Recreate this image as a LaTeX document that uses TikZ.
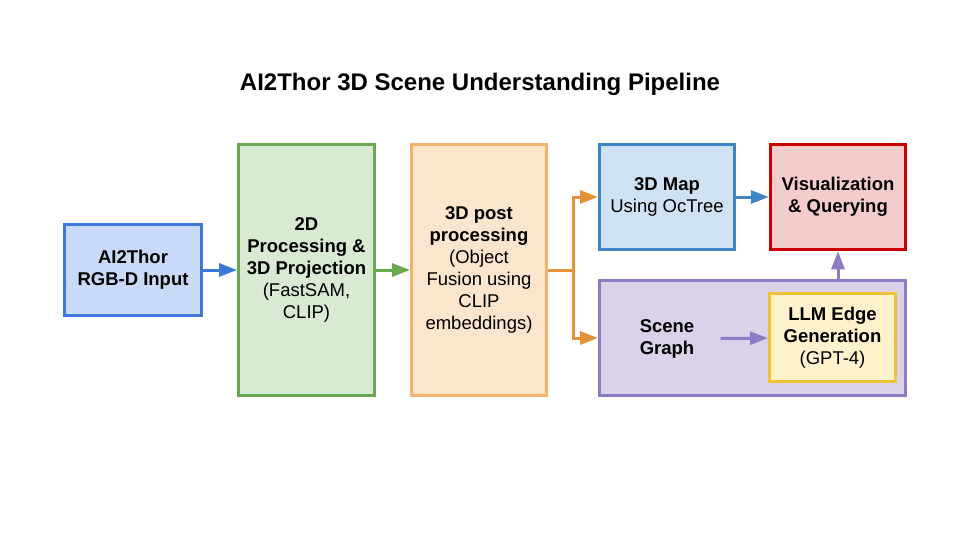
\documentclass[tikz,border=0pt]{standalone}
\usepackage{fontspec}
\setmainfont{Liberation Sans}
\usetikzlibrary{arrows.meta}

\definecolor{inputline}{HTML}{3C78D8}
\definecolor{inputfill}{HTML}{C9DAF8}
\definecolor{greenline}{HTML}{6AA84F}
\definecolor{greenfill}{HTML}{D9EAD3}
\definecolor{orangeline}{HTML}{F6B26B}
\definecolor{orangefill}{HTML}{FCE5CD}
\definecolor{orangearrow}{HTML}{E69138}
\definecolor{mapline}{HTML}{3D85C6}
\definecolor{mapfill}{HTML}{CFE2F3}
\definecolor{visline}{HTML}{CC0000}
\definecolor{visfill}{HTML}{F4CCCC}
\definecolor{sgline}{HTML}{8E7CC3}
\definecolor{sgfill}{HTML}{D9D2E9}
\definecolor{llmline}{HTML}{F1C232}
\definecolor{llmfill}{HTML}{FFF2CC}

\begin{document}
\begin{tikzpicture}[x=1pt,y=-1pt]

      \useasboundingbox (0,0) rectangle (960,540);

      \node[font=\fontsize{24}{28}\selectfont\bfseries] (title) at (480,84)
        {AI2Thor 3D Scene Understanding Pipeline};

      \begin{scope}[every node/.style={rectangle,draw,line width=3pt,align=center,
          inner sep=0pt,font=\fontsize{18.5}{22}\selectfont}]
        \node[fill=sgfill,draw=sgline,minimum width=306pt,minimum height=115pt] (sg) at (752.5,338) {};
        \node[fill=inputfill,draw=inputline,minimum width=137pt,minimum height=91pt] (input) at (133,270)
          {\textbf{AI2Thor}\\\textbf{RGB-D Input}};
        \node[fill=greenfill,draw=greenline,minimum width=136pt,minimum height=251pt] (proj) at (306.5,270)
          {\textbf{2D}\\\textbf{Processing \&}\\\textbf{3D Projection}\\(FastSAM,\\CLIP)};
        \node[fill=orangefill,draw=orangeline,minimum width=135pt,minimum height=251pt] (post) at (479,270)
          {\textbf{3D post}\\\textbf{processing}\\(Object\\Fusion using\\CLIP\\embeddings)};
        \node[fill=mapfill,draw=mapline,minimum width=135pt,minimum height=105pt] (map) at (667,197)
          {\textbf{3D Map}\\Using OcTree};
        \node[fill=visfill,draw=visline,line width=3.5pt,minimum width=135pt,minimum height=105pt] (vis) at (838,197)
          {\textbf{Visualization}\\\textbf{\& Querying}};
        \node[fill=llmfill,draw=llmline,minimum width=126pt,minimum height=88pt] (llm) at (832.5,337.5)
          {\textbf{LLM Edge}\\\textbf{Generation}\\(GPT-4)};
        \node[draw=none,minimum width=104pt] (sgtext) at (667,339)
          {\textbf{Scene}\\\textbf{Graph}};
      \end{scope}

      \coordinate (split) at (573,270);

      \begin{scope}[every edge/.style={draw,line width=3pt,-{Triangle[length=18pt,width=13pt]}}]
        \path (input)  edge[inputline] (proj);
        \path (proj)   edge[greenline] (post);
        \path (map)    edge[mapline] (vis);
        \path (sgtext) edge[sgline] (llm);
        \path (sg.north -| vis.south) edge[sgline] (vis.south);
        \path (split)  edge[orangearrow,to path={|- (\tikztotarget)}] (map);
        \path (split)  edge[orangearrow,to path={|- (\tikztotarget)}] (sg);
      \end{scope}
      \draw[orangearrow,line width=3pt] (post) -- (split);

    \end{tikzpicture}
\end{document}
